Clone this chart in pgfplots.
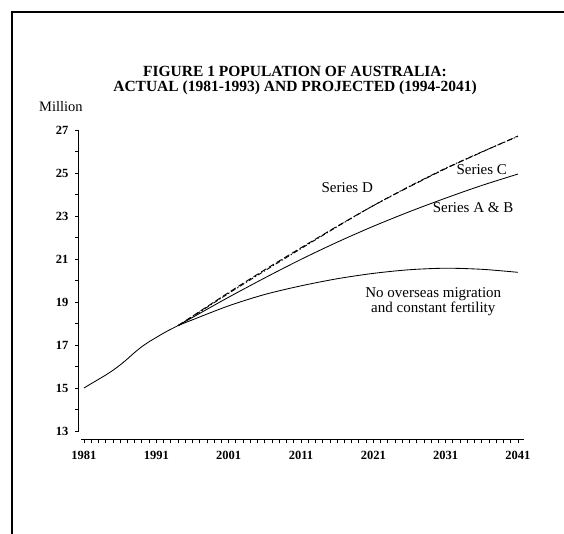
\documentclass[border=0pt]{standalone}
\usepackage{pgfplots}
\pgfplotsset{compat=1.18}
\usepackage{fontspec}
\setmainfont{Liberation Serif}

% population, millions
\pgfplotstableread{
year pop
1981 15.00
1982 15.20
1983 15.40
1984 15.60
1985 15.82
1986 16.07
1987 16.35
1988 16.65
1989 16.92
1990 17.15
1991 17.35
1992 17.55
1993 17.73
1994 17.90
}\actual
\pgfplotstableread{
year pop
1994 17.90
1996 18.28
2001 19.22
2006 20.12
2011 20.98
2016 21.78
2021 22.52
2026 23.20
2031 23.83
2036 24.42
2041 24.95
}\seriesAB
\pgfplotstableread{
year pop
1994 17.90
1996 18.32
2001 19.40
2006 20.45
2011 21.48
2016 22.50
2021 23.48
2026 24.38
2031 25.22
2036 25.98
2041 26.70
}\seriesC
\pgfplotstableread{
year pop
1994 17.90
1996 18.34
2001 19.44
2006 20.50
2011 21.52
2016 22.52
2021 23.48
2026 24.36
2031 25.20
2036 25.97
2041 26.72
}\seriesD
\pgfplotstableread{
year pop
1994 17.90
1996 18.17
2001 18.82
2006 19.35
2011 19.75
2016 20.08
2021 20.33
2026 20.50
2031 20.57
2036 20.52
2041 20.38
}\nomig

\begin{document}
\begin{tikzpicture}[x=1pt,y=1pt]
\useasboundingbox (0,0) rectangle (564,534);
\fill[white] (0,0) rectangle (564,534);
% page frame
\draw[line width=1.6pt] (12,0) -- (12,522) -- (564,522);
% title
\node[font=\bfseries\fontsize{15.5}{15}\selectfont, anchor=base, inner sep=0pt] at (295,457)
  {FIGURE 1 POPULATION OF AUSTRALIA:};
\node[font=\bfseries\fontsize{15.5}{15}\selectfont, anchor=base, inner sep=0pt] at (295,442)
  {ACTUAL (1981-1993) AND PROJECTED (1994-2041)};
\node[font=\fontsize{14.5}{14}\selectfont, anchor=base west, inner sep=0pt] at (39,422.5) {Million};

\begin{axis}[
  at={(78.9pt,94pt)}, anchor=south west,
  scale only axis, width=444.8pt, height=310pt,
  xmin=1980.3, xmax=2041.8, ymin=12.58, ymax=27,
  axis x line=bottom, axis y line=left,
  axis line style={draw=none},
  xtick={1981,1991,2001,2011,2021,2031,2041},
  xticklabels={1981,1991,2001,2011,2021,2031,2041},
  minor x tick num=9,
  ytick={13,15,17,19,21,23,25,27},
  yticklabels={13,15,17,19,21,23,25,27},
  minor y tick num=1,
  tick align=outside,
  major tick length=3.5pt, minor tick length=3.5pt,
  every tick/.style={black, line width=0.7pt},
  tick label style={font=\bfseries\fontsize{12.5}{14}\selectfont},
  xticklabel style={yshift=-4.5pt},
  yticklabel style={xshift=-3.5pt},
  clip=false,
]
% axis lines
\draw[line width=1pt] (axis cs:1980.3,13) -- (axis cs:1980.3,27);
\draw[line width=1pt] (axis cs:1980.6,12.58) -- (axis cs:2041.8,12.58);

\addplot[black, line width=0.85pt, smooth] table[x=year,y=pop] {\actual};
\addplot[black, line width=0.85pt, smooth] table[x=year,y=pop] {\seriesAB};
\addplot[black, line width=0.85pt, smooth] table[x=year,y=pop] {\nomig};
\addplot[black, line width=0.9pt, smooth, dash pattern=on 5pt off 2pt on 1.5pt off 2pt] table[x=year,y=pop] {\seriesC};
\addplot[black, line width=0.9pt, smooth, dash pattern=on 6pt off 3pt] table[x=year,y=pop] {\seriesD};

\node[font=\fontsize{15}{14}\selectfont] at (axis cs:2017.4,24.3) {Series D};
\node[font=\fontsize{15}{14}\selectfont] at (axis cs:2036.0,25.14) {Series C};
\node[font=\fontsize{15}{14}\selectfont] at (axis cs:2034.8,23.37) {Series A \& B};
\node[font=\fontsize{15}{12.5}\selectfont, align=center] at (axis cs:2029.3,19.0)
  {No overseas migration\\and constant fertility};
\end{axis}
\end{tikzpicture}
\end{document}
